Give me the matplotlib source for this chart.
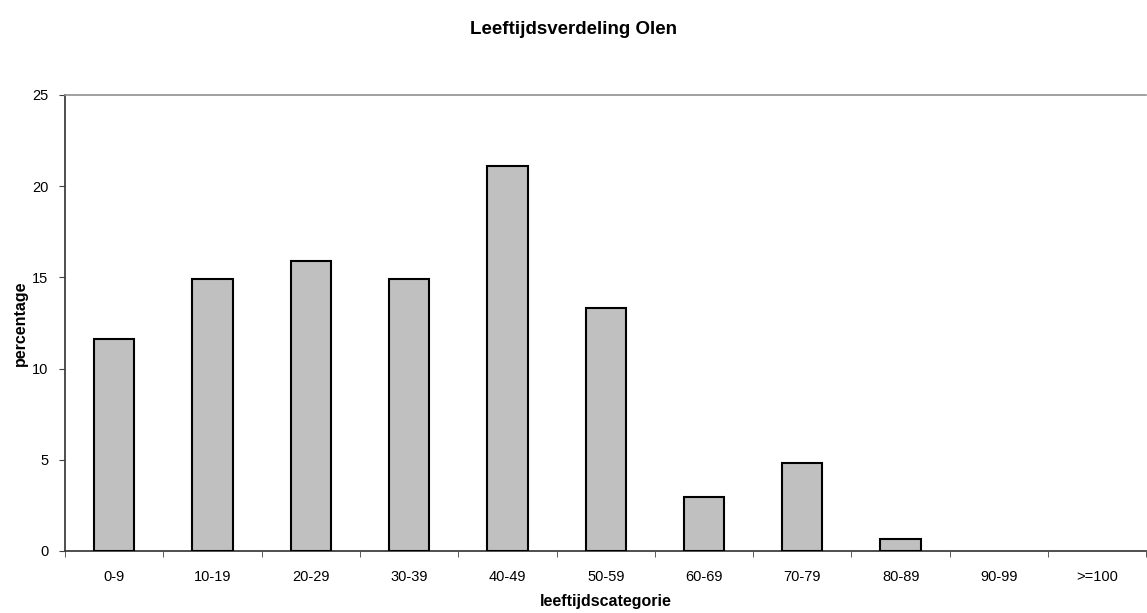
import matplotlib
matplotlib.use("Agg")
import matplotlib.pyplot as plt
import numpy as np

categories = ["0-9", "10-19", "20-29", "30-39", "40-49", "50-59",
              "60-69", "70-79", "80-89", "90-99", ">=100"]
values = [11.6, 14.9, 15.9, 14.9, 21.1, 13.3, 2.95, 4.8, 0.65, 0.0, 0.0]
yticks = [0, 5, 10, 15, 20, 25]

plt.rcParams['font.family'] = ['Liberation Sans', 'DejaVu Sans']

fig = plt.figure(figsize=(11.47, 6.13), dpi=100)
ax = fig.add_axes([65/1147, 1-551/613, 1-65/1147 - 0.0005, (551-95)/613])

x = np.arange(len(categories))
edges = ["black" if v > 0 else "none" for v in values]
ax.bar(x, values, width=0.41, color="#c0c0c0", edgecolor=edges, linewidth=1.5, zorder=3)
ax.set_xlim(-0.5, len(categories)-0.5)
ax.set_ylim(0, 25)
ax.set_yticks(yticks)
ax.set_yticklabels([str(t) for t in yticks], fontsize=10.5)
ax.set_xticks(x)
ax.set_xticklabels(categories, fontsize=10.5)
ax.set_xticks(np.arange(len(categories)+1)-0.5, minor=True)
ax.tick_params(axis='x', which='major', length=0, pad=14)
ax.tick_params(axis='x', which='minor', length=4, direction='out', color='#404040')
ax.tick_params(axis='y', length=4, direction='out', color='#404040', pad=8)

for s in ['left', 'bottom']:
    ax.spines[s].set_color('#404040')
    ax.spines[s].set_linewidth(1.3)
ax.spines['top'].set_color('#909090')
ax.spines['top'].set_linewidth(1.2)
ax.spines['right'].set_visible(False)

ax.set_xlabel("leeftijdscategorie", fontsize=11.5, fontweight='bold', labelpad=7)
ax.set_ylabel("percentage", fontsize=11.5, fontweight='bold', labelpad=3)
fig.text(0.5, 1-30/613, "Leeftijdsverdeling Olen", ha='center', va='center',
         fontsize=13.5, fontweight='bold')

fig.savefig("out.png", dpi=100)
